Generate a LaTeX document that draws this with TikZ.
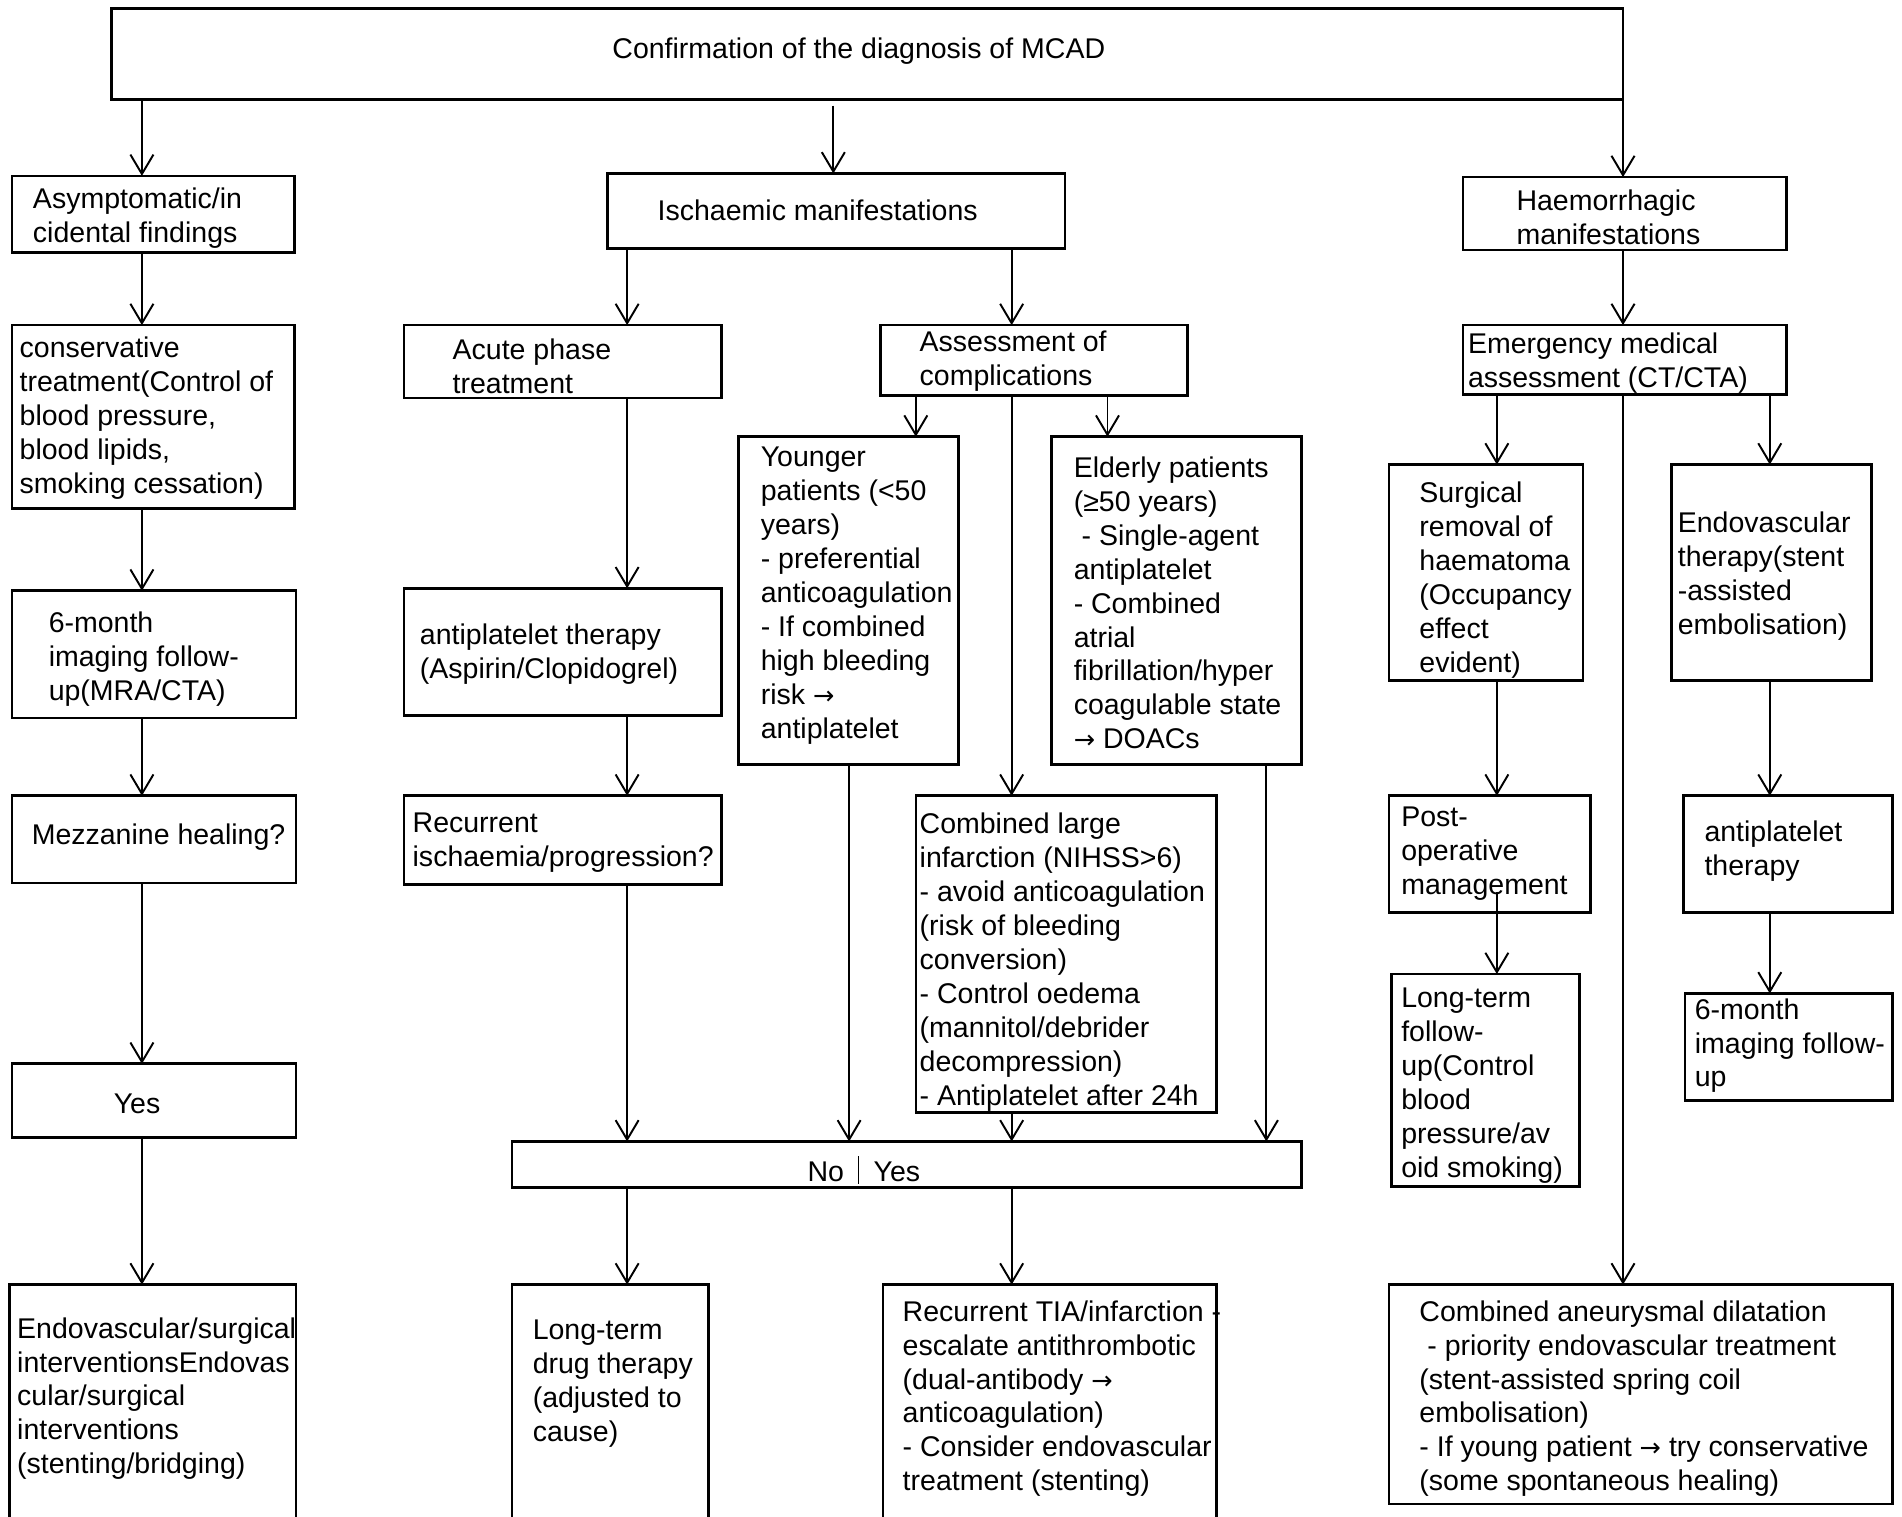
\documentclass[tikz,border=0pt]{standalone}
\usepackage{fontspec}
\setmainfont{Liberation Sans}
\newfontfamily\arrowfnt{DejaVu Sans}
\usetikzlibrary{arrows.meta}
\newcommand{\mkbox}[5]{\node[box, anchor=north west, minimum width={#4-#2}, minimum height={#5-#3}] (#1) at (#2,#3) {};}
\newcommand{\mktext}[4]{\node[txt, anchor=west] (#1) at (#2,{#3+2}) {#4};}
\newcommand{\rarr}{{\arrowfnt\fontsize{21}{28}\selectfont →}}
\begin{document}
\begin{tikzpicture}[x=1pt,y=-1pt,
  box/.style={draw, line width=2.2pt, inner sep=0pt, outer sep=0pt},
  txt/.style={inner sep=0pt, align=left, font=\fontsize{23.5}{28}\selectfont},
  arr/.style={line width=1.6pt, -{Straight Barb[length=16pt,width=19pt,line width=1.6pt]}}]
\useasboundingbox (0,0) rectangle (1568,1250);
\clip (0,0) rectangle (1568,1250);
\fill[white] (0,0) rectangle (1568,1250);

% ---------- boxes ----------
\mkbox{top}{92}{7}{1338}{82}
\mkbox{asym}{10}{145}{243}{208}
\mkbox{isch}{501}{143}{878}{205}
\mkbox{haem}{1206}{146}{1473}{206}
\mkbox{cons}{10}{268}{243}{419}
\mkbox{sixa}{10}{487}{244}{592}
\mkbox{mezz}{10}{656}{244}{728}
\mkbox{yesa}{10}{877}{244}{938}
\mkbox{endsurg}{8}{1059}{244}{1300}
\mkbox{acute}{333}{268}{595}{328}
\mkbox{assess}{726}{268}{979}{326}
\mkbox{anti}{333}{485}{595}{590}
\mkbox{recur}{333}{656}{595}{729}
\mkbox{younger}{609}{360}{790}{630}
\mkbox{elderly}{867}{360}{1073}{630}
\mkbox{cli}{755}{656}{1003}{917}
\mkbox{noyes}{422}{941}{1073}{979}
\mkbox{ltdrug}{422}{1059}{584}{1300}
\mkbox{rtia}{728}{1059}{1003}{1300}
\mkbox{emerg}{1206}{268}{1473}{325}
\mkbox{surg}{1145}{383}{1305}{561}
\mkbox{endo}{1378}{383}{1543}{561}
\mkbox{postop}{1145}{656}{1311}{752}
\mkbox{ltfu}{1147}{803}{1302}{978}
\mkbox{antib}{1388}{656}{1560}{752}
\mkbox{sixb}{1389}{819}{1560}{907}
\mkbox{caneu}{1145}{1059}{1560}{1240}

% ---------- texts ----------
\node[txt] (t-top) at (708,42) {Confirmation of the diagnosis of MCAD};
\mktext{t-asym}{27}{178}{Asymptomatic/in\\cidental findings}
\mktext{t-isch}{542}{171}{Ischaemic manifestations}
\mktext{t-haem}{1250}{177}{Haemorrhagic\\manifestations}
\mktext{t-cons}{16}{343}{conservative\\treatment(Control of\\blood pressure,\\blood lipids,\\smoking cessation)}
\mktext{t-sixa}{40}{541}{6-month\\imaging follow-\\up(MRA/CTA)}
\mktext{t-mezz}{26}{688}{Mezzanine healing?}
\node[txt] (t-yesa) at (113,910) {Yes};
\mktext{t-endsurg}{14}{1151}{Endovascular/surgical\\interventionsEndovas\\cular/surgical\\interventions\\(stenting/bridging)}
\mktext{t-acute}{373}{300}{Acute phase\\treatment}
\mktext{t-assess}{758}{296}{Assessment of\\complications}
\mktext{t-anti}{346}{537}{antiplatelet therapy\\(Aspirin/Clopidogrel)}
\mktext{t-recur}{340}{693}{Recurrent\\ischaemia/progression?}
\mktext{t-younger}{627}{489}{Younger\\patients (<50\\years)\\- preferential\\anticoagulation\\- If combined\\high bleeding\\risk \rarr\\antiplatelet}
\mktext{t-elderly}{885}{495}{Elderly patients\\(≥50 years)\\\ - Single-agent\\antiplatelet\\- Combined\\atrial\\fibrillation/hyper\\coagulable state\\\rarr\ DOACs}
\mktext{t-cli}{758}{791}{Combined large\\infarction (NIHSS>6)\\- avoid anticoagulation\\(risk of bleeding\\conversion)\\- Control oedema\\(mannitol/debrider\\decompression)\\- Antiplatelet after 24h}
\node[txt, anchor=east] (t-no) at (696,966) {No};
\node[txt, anchor=west] (t-yes) at (720,966) {Yes};
\draw[line width=1pt] (708,953) -- (708,976);
\mktext{t-ltdrug}{439}{1139}{Long-term\\drug therapy\\(adjusted to\\cause)}
\mktext{t-rtia}{744}{1151}{Recurrent TIA/infarction -\\escalate antithrombotic\\(dual-antibody \rarr\\anticoagulation)\\- Consider endovascular\\treatment (stenting)}
\mktext{t-emerg}{1210}{297}{Emergency medical\\assessment (CT/CTA)}
\mktext{t-surg}{1170}{476}{Surgical\\removal of\\haematoma\\(Occupancy\\effect\\evident)}
\mktext{t-endo}{1383}{473}{Endovascular\\therapy(stent\\-assisted\\embolisation)}
\mktext{t-postop}{1155}{702}{Post-\\operative\\management}
\mktext{t-ltfu}{1155}{893}{Long-term\\follow-\\up(Control\\blood\\pressure/av\\oid smoking)}
\mktext{t-antib}{1405}{700}{antiplatelet\\therapy}
\mktext{t-sixb}{1397}{860}{6-month\\imaging follow-\\up}
\mktext{t-caneu}{1170}{1151}{Combined aneurysmal dilatation\\\ - priority endovascular treatment\\(stent-assisted spring coil\\embolisation)\\- If young patient \rarr\ try conservative\\(some spontaneous healing)}

% ---------- connectors ----------
\draw[arr] (117,0 |- top.south) -- (117,0 |- asym.north);
\draw[arr] (687,0 |- top.south) ++(0,5) -- (687,0 |- isch.north);
\draw[arr] (1338,0 |- top.south) -- (1338,0 |- haem.north);
\draw[arr] (117,0 |- asym.south) -- (117,0 |- cons.north);
\draw[arr] (117,0 |- cons.south) -- (117,0 |- sixa.north);
\draw[arr] (117,0 |- sixa.south) -- (117,0 |- mezz.north);
\draw[arr] (117,0 |- mezz.south) -- (117,0 |- yesa.north);
\draw[arr] (117,0 |- yesa.south) -- (117,0 |- endsurg.north);
\draw[arr] (517,0 |- isch.south) -- (517,0 |- acute.north);
\draw[arr] (834,0 |- isch.south) -- (834,0 |- assess.north);
\draw[arr] (517,0 |- acute.south) -- (517,0 |- anti.north);
\draw[arr] (517,0 |- anti.south) -- (517,0 |- recur.north);
\draw[arr] (517,0 |- recur.south) -- (517,0 |- noyes.north);
\draw[arr] (755,0 |- assess.south) -- (755,0 |- younger.north);
\draw[arr] (913,0 |- assess.south) -- (913,0 |- elderly.north);
\draw[arr] (834,0 |- assess.south) -- (834,0 |- cli.north);
\draw[arr] (834,0 |- cli.south) -- (834,0 |- noyes.north);
\draw[arr] (700,0 |- younger.south) -- (700,0 |- noyes.north);
\draw[arr] (1044,0 |- elderly.south) -- (1044,0 |- noyes.north);
\draw[arr] (517,0 |- noyes.south) -- (517,0 |- ltdrug.north);
\draw[arr] (834,0 |- noyes.south) -- (834,0 |- rtia.north);
\draw[arr] (1338,0 |- haem.south) -- (1338,0 |- emerg.north);
\draw[arr] (1234,0 |- emerg.south) -- (1234,0 |- surg.north);
\draw[arr] (1459,0 |- emerg.south) -- (1459,0 |- endo.north);
\draw[arr] (1338,0 |- emerg.south) -- (1338,0 |- caneu.north);
\draw[arr] (1234,0 |- surg.south) -- (1234,0 |- postop.north);
\draw[arr] (1234,0 |- postop.south) ++(0,-17) -- (1234,0 |- ltfu.north);
\draw[arr] (1459,0 |- endo.south) -- (1459,0 |- antib.north);
\draw[arr] (1459,0 |- antib.south) -- (1459,0 |- sixb.north);
\end{tikzpicture}
\end{document}
